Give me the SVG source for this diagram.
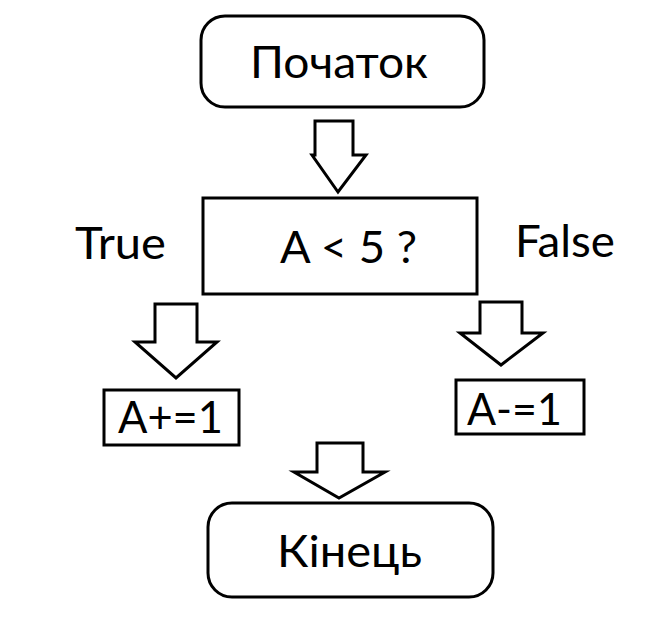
<svg xmlns="http://www.w3.org/2000/svg" width="660" height="618" viewBox="0 0 660 618">
<style>
.s{fill:none;stroke:#000;stroke-width:3;stroke-linejoin:miter}
.a{fill:#fff;stroke:#000;stroke-width:3;stroke-linejoin:miter}
.t{font-family:Lato,"Open Sans","Liberation Sans",sans-serif;font-size:44px;fill:#000}
</style>
<rect width="660" height="618" fill="#fff"/>
<g id="start">
<rect class="s" x="201" y="16" width="283" height="91" rx="24" ry="24"/>
<text class="t" x="250" y="78" textLength="178" lengthAdjust="spacingAndGlyphs">Початок</text>
</g>
<g id="decision">
<rect class="s" x="203" y="198" width="274" height="96"/>
<text class="t" x="280" y="263" textLength="137" lengthAdjust="spacingAndGlyphs">A &lt; 5 ?</text>
</g>
<g id="label-true">
<text class="t" x="75" y="259" textLength="91" lengthAdjust="spacingAndGlyphs">True</text>
</g>
<g id="label-false">
<text class="t" x="515" y="257" textLength="100" lengthAdjust="spacingAndGlyphs">False</text>
</g>
<g id="inc">
<rect class="s" x="104" y="390" width="135" height="55"/>
<text class="t" x="118" y="433" textLength="105" lengthAdjust="spacingAndGlyphs">A+=1</text>
</g>
<g id="dec">
<rect class="s" x="456" y="380" width="128" height="54"/>
<text class="t" x="467" y="425" textLength="95" lengthAdjust="spacingAndGlyphs">A-=1</text>
</g>
<g id="end">
<rect class="s" x="208" y="503" width="285" height="94" rx="24" ry="24"/>
<text class="t" x="277" y="567" textLength="145" lengthAdjust="spacingAndGlyphs">Кінець</text>
</g>
<g id="connectors">
<polygon class="a" points="315,121 353,121 353,155 366,155 338,192 312,155 315,155"/>
<polygon class="a" points="155,304 197,304 197,342 217,342 176,378 135,342 155,342"/>
<polygon class="a" points="480,302 522,302 522,333 543,333 501,365 460,333 480,333"/>
<polygon class="a" points="317,443 363,443 363,472 385,472 339,498 294,472 317,472"/>
</g>
</svg>
